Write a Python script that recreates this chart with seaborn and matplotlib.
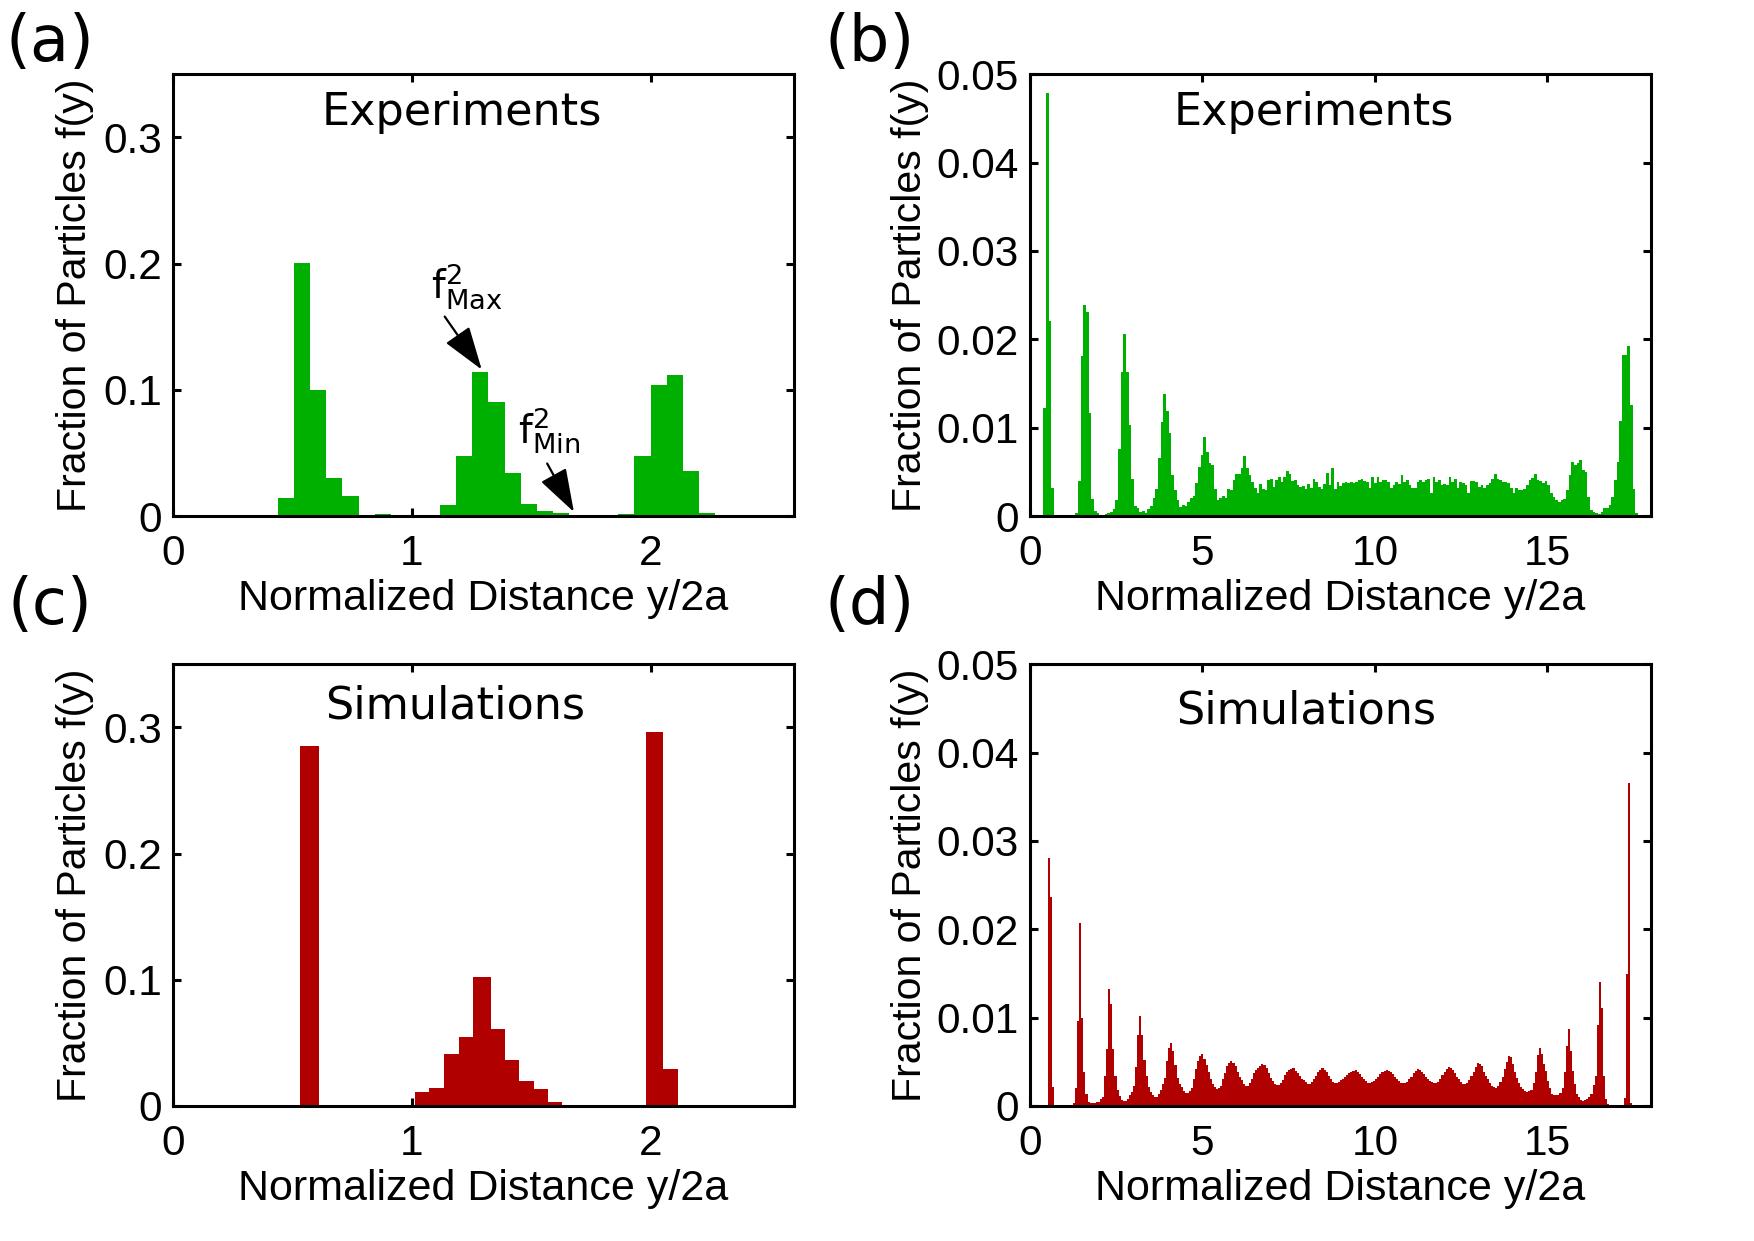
import numpy as np
import pandas as pd
import seaborn as sns
import matplotlib.pyplot as plt

# histogram data
# (a) experiments, narrow channel
A_BIN0, A_BINW = 0.438, 0.0679
a_frac = [0.0146, 0.2008, 0.100, 0.0305, 0.0159, 0.0, 0.0013, 0.0, 0.0003, 0.0005,
          0.0085, 0.0477, 0.1144, 0.0903, 0.0342, 0.0098, 0.0037, 0.0024, 0.0, 0.0003,
          0.0003, 0.0013, 0.0477, 0.1038, 0.1118, 0.0355, 0.0024]

# (c) simulations, narrow channel (bin edges as read, the tall bins are wider)
c_edges = [0.532, 0.610, 0.668, 0.725, 0.783, 0.840, 0.898, 0.955, 1.013, 1.073,
           1.136, 1.197, 1.257, 1.330, 1.391, 1.451, 1.511, 1.571, 1.631, 1.691,
           1.747, 1.803, 1.859, 1.923, 1.979, 2.052, 2.115]
c_frac = [0.2853, 0.0005, 0.0001, 0.0003, 0.0005, 0.0003, 0.0001, 0.0005, 0.0111, 0.0143,
          0.0408, 0.0548, 0.1020, 0.0609, 0.0366, 0.0196, 0.0132, 0.0032, 0.0003, 0.0,
          0.0, 0.0, 0.0003, 0.0008, 0.2964, 0.0291]

# (b) experiments, wide channel (values in units of 1e-4)
B_BIN0, B_BINW = 0.39, 0.0773
b_frac_1e4 = [
    122, 479, 221, 32,
    0, 0, 0, 0, 0, 0, 0, 0, 3,
    40, 181, 239, 231, 117, 19, 6, 3,
    0, 1, 2, 3, 5,
    8, 18, 76, 163, 206, 163, 103, 42, 11, 9, 5, 6, 3, 8, 11,
    20,
    31, 66, 106, 138, 119, 94, 46, 30, 18, 10, 13, 11, 16, 20, 23, 37, 55,
    69, 89, 73, 60, 58, 31, 18, 20, 23, 20, 31, 29, 41, 48, 48, 54, 68, 54,
    46, 39, 32, 26, 36, 31, 29, 41, 42, 33, 41, 44, 39, 44, 51, 48, 40, 41, 35, 33,
    34, 31, 36, 32, 42, 39, 33, 31, 36, 49, 35, 54, 31, 39, 34, 37, 38, 37, 39, 37,
    39, 41, 42, 40, 38, 32, 44, 37, 44, 38, 41, 41, 39, 32, 35, 39, 36, 46, 38, 41,
    35, 32, 32, 38, 41, 39, 41, 42, 26, 44, 38, 41, 35, 36, 35, 44, 38, 42, 32, 38,
    37, 35, 26, 40, 40, 39, 33, 35, 32, 35, 37, 42, 47, 42, 41, 39, 38, 37, 32, 26,
    32, 29, 30, 31, 35, 41, 43, 48, 41, 40, 37, 40, 35, 26, 21, 18, 16, 18, 19, 30,
    46, 61, 58, 60, 63, 52, 50, 21, 7, 4, 3, 2, 4, 9, 9, 12, 21, 41, 61,
    108, 182, 182, 192, 126, 31, 3]

# (d) simulations, wide channel (values in units of 1e-4)
D_BIN0, D_BINW = 0.53, 0.06
d_frac_1e4 = [
    281, 237, 22,
    0, 0, 0, 0, 0, 0, 0, 0, 0,
    3, 20, 96, 207, 100, 39, 13, 4, 3, 3, 3, 4, 5, 8, 10,
    34, 64, 132, 115, 64, 34, 18, 11, 7, 6, 6, 8, 12, 16,
    23, 44, 80, 102, 80, 52, 34, 22, 16, 12, 10, 10, 13, 18, 25,
    32, 51, 66, 71, 62, 46, 32, 25, 21, 17, 15, 15, 17, 20,
    30, 42, 51, 56, 59, 53, 46, 38, 31, 25, 21, 19, 20, 23, 30, 37, 45, 49, 51, 49,
    45, 39, 33, 29, 25, 23, 23, 26, 30, 37, 41, 43, 45, 47, 46, 43, 37, 32, 28, 25,
    24, 24, 26, 29, 35, 38, 41, 42, 43, 40, 37, 34, 31, 29, 27, 25, 25, 27, 30, 34,
    38, 41, 43, 41, 39, 34, 30, 27, 26, 26, 27, 29, 31, 33, 35, 37, 39, 40, 41, 39,
    36, 33, 31, 28, 26, 26, 27, 28, 30, 33, 36, 39, 40, 41, 40, 38, 36, 33, 30, 28,
    26, 26, 26, 27, 30, 33, 37, 40, 42, 41, 39, 36, 33, 30, 28, 27, 26, 26, 27, 31,
    35, 39, 42, 44, 43, 41, 37, 33, 30, 27, 25, 25, 26, 29, 34, 38, 44, 49, 48, 45,
    39, 34, 30, 26, 23, 21, 20, 23, 27, 33, 42, 50, 57, 55, 48, 39, 32, 26, 22, 19,
    17, 16, 17, 18, 26, 38, 58, 66, 59, 48, 40, 28, 20, 14, 12, 12, 12, 15, 20, 38,
    68, 87, 62, 40, 25, 14, 10, 7, 6, 7, 8, 10, 14, 24, 34, 92, 140, 111, 34, 8,
    2, 0, 0, 0, 0, 0, 0, 0, 9, 149, 366, 3]

a_yticks = [0, 0.1, 0.2, 0.3]
a_ylabels = ["0", "0.1", "0.2", "0.3"]
b_yticks = [0, 0.01, 0.02, 0.03, 0.04, 0.05]
b_ylabels = ["0", "0.01", "0.02", "0.03", "0.04", "0.05"]

GREEN = "#00b000"
RED = "#b00000"

sns.set_style("ticks")
plt.rcParams["font.family"] = ["Liberation Sans", "DejaVu Sans"]
plt.rcParams["mathtext.fontset"] = "dejavusans"
for k in ["text.color", "axes.labelcolor", "xtick.color", "ytick.color", "axes.edgecolor"]:
    plt.rcParams[k] = "black"


def hist_panel(ax, edges, heights, scale, color):
    h = np.asarray(heights, dtype=float) * scale
    edges = np.asarray(edges, dtype=float)
    df = pd.DataFrame({"y": (edges[:-1] + edges[1:]) / 2, "f": h})
    # bins passed as a plain list (seaborn compares bins to "auto")
    sns.histplot(data=df, x="y", weights="f", bins=edges.tolist(), color=color,
                 alpha=1, linewidth=0, ax=ax)


def uniform_edges(bin0, binw, n):
    return bin0 + binw * np.arange(n + 1)


def style_panel(ax, xlim, ylim, xticks, yticks, ylabels, ylab_x, title, title_xy):
    ax.set_xlim(*xlim)
    ax.set_ylim(*ylim)
    ax.set_xticks(xticks)
    ax.set_yticks(yticks)
    ax.set_yticklabels(ylabels)
    ax.tick_params(direction="in", top=True, right=True, length=6, width=2.2,
                   labelsize=30.5)
    ax.tick_params(axis="x", pad=13)
    ax.tick_params(axis="y", pad=8)
    for s in ax.spines.values():
        s.set_linewidth(2.2)
        s.set_color("black")
    ax.set_xlabel("Normalized Distance y/2a", fontsize=31, va="center")
    ax.xaxis.set_label_coords(0.5, -0.188)
    ax.set_ylabel("Fraction of Particles f(y)", fontsize=29.5, va="center")
    ax.yaxis.set_label_coords(ylab_x, 0.5)
    ax.text(title_xy[0], title_xy[1], title, transform=ax.transAxes,
            ha="center", va="center", fontsize=32, family="DejaVu Sans")


fig = plt.figure(figsize=(17.54, 12.41), dpi=100)
W, H = 0.354, 0.356
ax_a = fig.add_axes([0.0986, 0.5842, W, H])
ax_b = fig.add_axes([0.5872, 0.5842, W, H])
ax_c = fig.add_axes([0.0986, 0.1088, W, H])
ax_d = fig.add_axes([0.5872, 0.1088, W, H])

hist_panel(ax_a, uniform_edges(A_BIN0, A_BINW, len(a_frac)), a_frac, 1.0, GREEN)
hist_panel(ax_b, uniform_edges(B_BIN0, B_BINW, len(b_frac_1e4)), b_frac_1e4, 1e-4, GREEN)
hist_panel(ax_c, c_edges, c_frac, 1.0, RED)
hist_panel(ax_d, uniform_edges(D_BIN0, D_BINW, len(d_frac_1e4)), d_frac_1e4, 1e-4, RED)

style_panel(ax_a, (0, 2.6), (0, 0.35), [0, 1, 2], a_yticks, a_ylabels, -0.158,
            "Experiments", (0.465, 0.914))
style_panel(ax_b, (0, 18), (0, 0.05), [0, 5, 10, 15], b_yticks, b_ylabels, -0.193,
            "Experiments", (0.457, 0.914))
style_panel(ax_c, (0, 2.6), (0, 0.35), [0, 1, 2], a_yticks, a_ylabels, -0.158,
            "Simulations", (0.454, 0.905))
style_panel(ax_d, (0, 18), (0, 0.05), [0, 5, 10, 15], b_yticks, b_ylabels, -0.193,
            "Simulations", (0.445, 0.894))

# f_max / f_min markers in panel (a)
arrow = dict(arrowstyle="-|>,head_length=0.6,head_width=0.2", color="black",
             lw=1.6, mutation_scale=45, shrinkA=0, shrinkB=0)
ax_a.text(1.23, 0.182, r"$\mathrm{f}^{2}_{\mathrm{Max}}$", fontsize=28,
          ha="center", va="center")
ax_a.annotate("", xy=(1.293, 0.116), xytext=(1.138, 0.158), arrowprops=arrow)
ax_a.text(1.575, 0.068, r"$\mathrm{f}^{2}_{\mathrm{Min}}$", fontsize=28,
          ha="center", va="center")
ax_a.annotate("", xy=(1.679, 0.0032), xytext=(1.567, 0.0416), arrowprops=arrow)

for lab, x, y in [("(a)", 0.0285, 0.965), ("(b)", 0.496, 0.965),
                  ("(c)", 0.0285, 0.5117), ("(d)", 0.496, 0.5117)]:
    fig.text(x, y, lab, fontsize=46, family="DejaVu Sans", ha="center", va="center")

fig.savefig("out.png", dpi=100)
